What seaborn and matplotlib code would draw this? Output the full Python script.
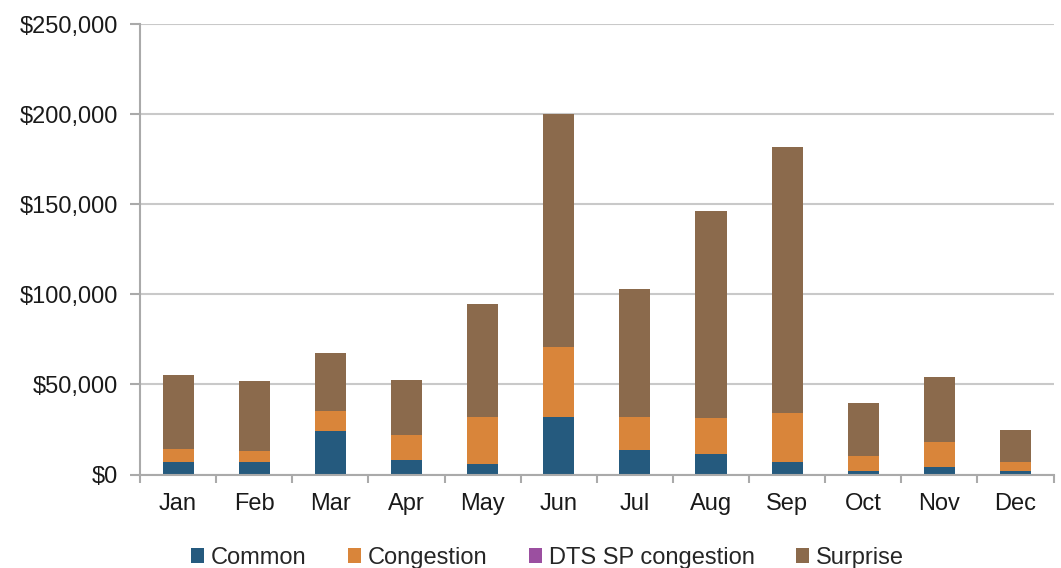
import matplotlib
matplotlib.use("Agg")
import matplotlib.pyplot as plt
from matplotlib.patches import Patch
from matplotlib.ticker import FuncFormatter, FixedLocator
import seaborn as sns
import pandas as pd
import numpy as np

months = ["Jan", "Feb", "Mar", "Apr", "May", "Jun",
          "Jul", "Aug", "Sep", "Oct", "Nov", "Dec"]
common = [7200, 7000, 24200, 8000, 5700, 32000, 13800, 11600, 7100, 2000, 4300, 2000]
congestion = [7000, 6300, 11000, 14000, 26300, 38700, 18200, 19700, 27200, 8300, 13900, 5100]
dts_sp_congestion = [0, 0, 0, 0, 0, 0, 0, 0, 0, 0, 0, 0]
surprise = [41000, 38900, 32400, 30400, 62900, 129600, 71000, 115100, 147500, 29400, 36000, 17600]

series_names = ["Common", "Congestion", "DTS SP congestion", "Surprise"]
series_colors = ["#255A7E", "#D9853A", "#9B4FA0", "#8B6A4C"]

df = pd.DataFrame({
    "month": months,
    "Common": common,
    "Congestion": congestion,
    "DTS SP congestion": dts_sp_congestion,
    "Surprise": surprise,
})
# cumulative tops for stacking (drawn from the top layer downward)
cum = df[series_names].cumsum(axis=1)

sns.set_theme(style="white")
plt.rcParams["font.family"] = ["Liberation Sans", "DejaVu Sans"]

fig = plt.figure(figsize=(10.61, 5.68), dpi=100)
ax = fig.add_axes([0.132, 0.1646, 0.861, 0.7924])

for name, color in reversed(list(zip(series_names, series_colors))):
    sns.barplot(x=df["month"], y=cum[name], color=color, width=0.41,
                saturation=1, ax=ax, linewidth=0, order=months)

ax.set_ylim(0, 250000)
ax.set_xlim(-0.5, 11.5)
ax.set_xlabel("")
ax.set_ylabel("")
ax.yaxis.set_major_locator(FixedLocator(np.arange(0, 250001, 50000)))
ax.yaxis.set_major_formatter(FuncFormatter(lambda v, p: f"${v:,.0f}"))
ax.grid(axis="y", color="#C9C9C9", linewidth=1.5)
ax.set_axisbelow(True)

for side in ["top", "right"]:
    ax.spines[side].set_visible(False)
for side in ["left", "bottom"]:
    ax.spines[side].set_color("#AAAAAA")
    ax.spines[side].set_linewidth(1.5)

# category labels centred, tick marks at category boundaries
ax.set_xticks(np.arange(12))
ax.set_xticklabels(months)
ax.set_xticks(np.arange(-0.5, 12, 1), minor=True)
ax.tick_params(axis="x", which="major", length=0, pad=13, labelsize=17,
               labelcolor="#1A1A1A")
ax.tick_params(axis="x", which="minor", length=6, width=1.5, color="#AAAAAA",
               direction="out", bottom=True)
ax.tick_params(axis="y", which="major", length=7, width=1.5, color="#AAAAAA",
               direction="out", left=True, labelsize=17, labelcolor="#1A1A1A",
               pad=9)

handles = [Patch(facecolor=c, edgecolor="none", label=n)
           for n, c in zip(series_names, series_colors)]
fig.legend(handles=handles, loc="center", bbox_to_anchor=(0.516, 0.018),
           ncol=4, frameon=False, fontsize=17, handlelength=0.55,
           handleheight=0.55, handletextpad=0.3, columnspacing=1.75)

fig.savefig("out.png", dpi=100, facecolor="white")
